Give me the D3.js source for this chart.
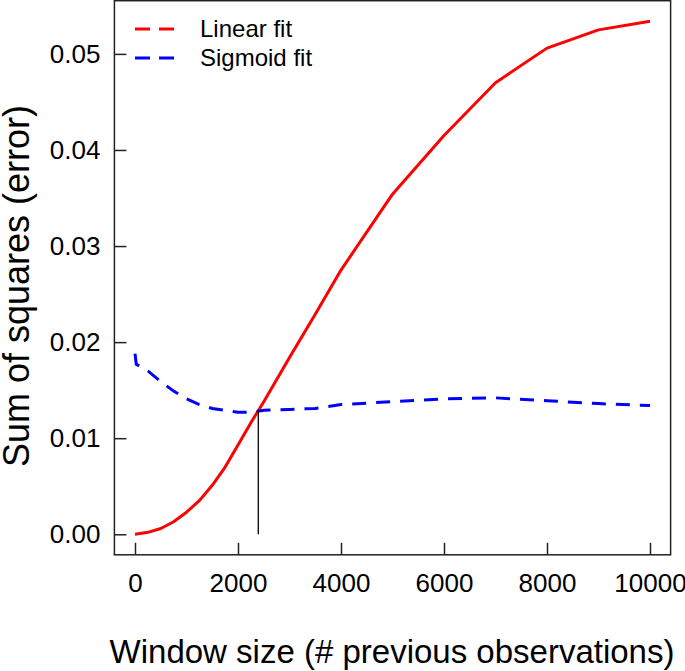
<!DOCTYPE html>
<html>
<head>
<meta charset="utf-8">
<script src="https://cdn.jsdelivr.net/npm/d3@7"></script>
<style>
body { margin: 0; background: #fff; }
svg text { font-family: "Liberation Sans", Arial, sans-serif; fill: #000; }
</style>
</head>
<body>
<svg id="chart" width="685" height="671"></svg>
<script>
// window sizes and error values
var linearX = [0, 250, 500, 750, 1000, 1250, 1500, 1750, 2000, 2250, 2500, 3000, 3500, 4000, 5000, 6000, 7000, 8000, 9000, 10000];
var linearY = [0, 0.0002, 0.0006, 0.0013, 0.0023, 0.0035, 0.0051, 0.0070, 0.0093, 0.0116, 0.0138, 0.0184, 0.0229, 0.0275, 0.0354, 0.0415, 0.0470, 0.0506, 0.0525, 0.0534];
var sigmoidX = [0, 25, 250, 500, 750, 1000, 1250, 1500, 1750, 2000, 2250, 2500, 3000, 3500, 4000, 5000, 6000, 7000, 8000, 9000, 10000];
var sigmoidY = [0.0188, 0.0177, 0.0170, 0.0159, 0.0149, 0.0141, 0.0135, 0.0131, 0.0129, 0.0127, 0.0127, 0.0129, 0.0130, 0.0131, 0.0135, 0.0138, 0.0141, 0.0142, 0.0139, 0.0136, 0.0134];
var crossX = 2394;
var crossY = 0.0129;
var xTicks = [0, 2000, 4000, 6000, 8000, 10000];
var yTicks = [0, 0.01, 0.02, 0.03, 0.04, 0.05];
var legendLabels = ["Linear fit", "Sigmoid fit"];
var legendColors = ["#ff0000", "#0000ff"];

var svg = d3.select("#chart");

// R style: axis range padded by 4% on each side
var x = d3.scaleLinear().domain([-400, 10400]).range([114.4, 670.6]);
var y = d3.scaleLinear().domain([-0.002136, 0.055536]).range([554.8, 0.7]);

var xAxis = d3.axisBottom(x).tickValues(xTicks).tickSize(-12).tickPadding(19).tickFormat(d3.format("d"));
var yAxis = d3.axisLeft(y).tickValues(yTicks).tickSize(-12).tickPadding(14).tickFormat(d3.format(".2f"));

var gx = svg.append("g").attr("transform", "translate(0," + y.range()[0] + ")").call(xAxis);
var gy = svg.append("g").attr("transform", "translate(" + x.range()[0] + ",0)").call(yAxis);
[gx, gy].forEach(function(g) {
    g.select(".domain").remove();
    g.selectAll(".tick line").attr("stroke", "#222").attr("stroke-width", 1.5);
    g.selectAll(".tick text").attr("font-size", 26).attr("font-family", "Liberation Sans, Arial, sans-serif").attr("fill", "#000");
});

svg.append("rect")
    .attr("x", x.range()[0]).attr("y", y.range()[1])
    .attr("width", x.range()[1] - x.range()[0])
    .attr("height", y.range()[0] - y.range()[1])
    .attr("fill", "none").attr("stroke", "#222").attr("stroke-width", 1.5);

var line = d3.line().x(function(d) { return x(d[0]); }).y(function(d) { return y(d[1]); });

svg.append("path")
    .datum(d3.zip(linearX, linearY))
    .attr("d", line)
    .attr("fill", "none").attr("stroke", legendColors[0]).attr("stroke-width", 3)
    .attr("stroke-linejoin", "round");

svg.append("path")
    .datum(d3.zip(sigmoidX, sigmoidY))
    .attr("d", line)
    .attr("fill", "none").attr("stroke", legendColors[1]).attr("stroke-width", 3)
    .attr("stroke-dasharray", "14 10");

svg.append("line")
    .attr("x1", x(crossX)).attr("x2", x(crossX))
    .attr("y1", y(0)).attr("y2", y(crossY))
    .attr("stroke", "#000").attr("stroke-width", 1.3);

// legend
var leg = svg.append("g");
legendLabels.forEach(function(lab, i) {
    var ly = 29 + i * 29;
    leg.append("line")
        .attr("x1", 135).attr("x2", 174).attr("y1", ly).attr("y2", ly)
        .attr("stroke", legendColors[i]).attr("stroke-width", 3)
        .attr("stroke-dasharray", "15 9");
    leg.append("text")
        .attr("x", 200).attr("y", ly + 8)
        .attr("font-size", 24)
        .text(lab);
});

svg.append("text")
    .attr("x", 392).attr("y", 663)
    .attr("text-anchor", "middle")
    .attr("font-size", 33)
    .text("Window size (# previous observations)");

svg.append("text")
    .attr("transform", "translate(29,286) rotate(-90)")
    .attr("text-anchor", "middle")
    .attr("font-size", 36)
    .text("Sum of squares (error)");
</script>
</body>
</html>
